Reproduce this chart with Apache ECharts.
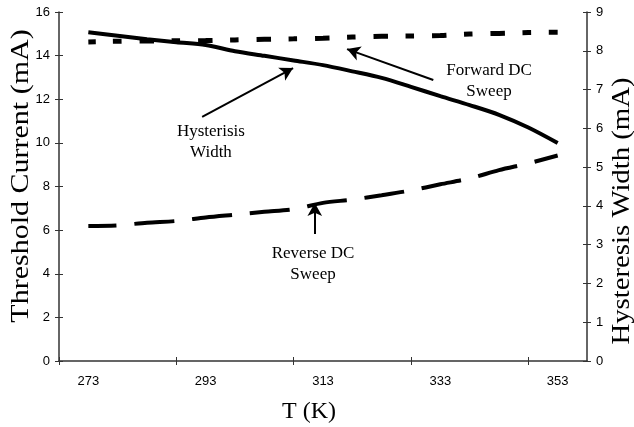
<!DOCTYPE html>
<html>
<head>
<meta charset="utf-8">
<script src="https://cdn.jsdelivr.net/npm/echarts@6/dist/echarts.min.js"></script>
<style>
  html, body { margin: 0; padding: 0; background: #fff; }
  #chart { width: 634px; height: 427px; }
</style>
</head>
<body>
<div id="chart"></div>
<script>
// temperatures (K)
var temps = [273, 278, 283, 288, 293, 298, 303, 308, 313, 318, 323, 328, 333, 338, 343, 348, 353];
// threshold current, forward DC sweep (mA, left axis)
var forwardSweep = [14.63, 14.66, 14.67, 14.68, 14.69, 14.72, 14.75, 14.77, 14.80, 14.85, 14.89, 14.90, 14.92, 14.99, 15.02, 15.06, 15.07];
// threshold current, reverse DC sweep (mA, left axis)
var reverseSweep = [6.19, 6.22, 6.34, 6.42, 6.58, 6.71, 6.84, 6.96, 7.25, 7.40, 7.60, 7.82, 8.10, 8.37, 8.75, 9.06, 9.42];
// hysteresis width (mA, right axis)
var hysteresisWidth = [8.48, 8.39, 8.30, 8.22, 8.15, 7.99, 7.87, 7.75, 7.63, 7.47, 7.30, 7.07, 6.83, 6.60, 6.35, 6.02, 5.62];

var xTicks = [268, 288, 308, 328, 348];
var xLabels = [273, 293, 313, 333, 353];

// annotation arrows [from, to] in (T, left-axis mA)
var arrows = [
  [[292.4, 11.19], [307.9, 13.43]],
  [[331.8, 12.88], [317.1, 14.30]],
  [[311.6, 5.82], [311.6, 7.24]]
];
var notes = [
  { text: 'Hysterisis\nWidth', at: [293.9, 10.04] },
  { text: 'Forward DC\nSweep', at: [341.3, 12.84] },
  { text: 'Reverse DC\nSweep', at: [311.3, 4.45] }
];

function pairs(xs, ys) {
  return ys.map(function (v, i) { return [xs[i], v]; });
}

var chart = echarts.init(document.getElementById('chart'));

var axisLine = { lineStyle: { color: '#333', width: 1.5 } };
var tickLabel = { color: '#000', fontFamily: 'Liberation Sans', fontSize: 13 };

var option = {
  animation: false,
  grid: { left: 59, right: 47, top: 12, bottom: 66 },
  xAxis: [
    {
      type: 'value', min: 268, max: 358,
      axisLine: axisLine,
      splitLine: { show: false },
      axisTick: { customValues: xTicks, length: 4, lineStyle: { color: '#333' } },
      axisLabel: Object.assign({ customValues: xLabels, margin: 14 }, tickLabel)
    },
    {
      type: 'value', min: 268, max: 358, position: 'bottom',
      axisLine: { show: false },
      splitLine: { show: false },
      axisTick: { inside: true, customValues: xTicks, length: 4, lineStyle: { color: '#333' } },
      axisLabel: { show: false }
    }
  ],
  yAxis: [
    {
      type: 'value', min: 0, max: 16, interval: 2, position: 'left',
      axisLine: Object.assign({ show: true }, axisLine),
      splitLine: { show: false },
      axisTick: { show: true, length: 4, lineStyle: { color: '#333' } },
      axisLabel: Object.assign({ margin: 9 }, tickLabel)
    },
    {
      type: 'value', min: 0, max: 9, interval: 1, position: 'right',
      axisLine: Object.assign({ show: true }, axisLine),
      splitLine: { show: false },
      axisTick: { show: true, length: 4, lineStyle: { color: '#333' } },
      axisLabel: Object.assign({ margin: 9 }, tickLabel)
    },
    {
      type: 'value', min: 0, max: 16, interval: 2, position: 'left',
      axisLine: { show: false }, splitLine: { show: false },
      axisTick: { show: true, inside: true, length: 4, lineStyle: { color: '#333' } },
      axisLabel: { show: false }
    },
    {
      type: 'value', min: 0, max: 9, interval: 1, position: 'right',
      axisLine: { show: false }, splitLine: { show: false },
      axisTick: { show: true, inside: true, length: 4, lineStyle: { color: '#333' } },
      axisLabel: { show: false }
    }
  ],
  graphic: [
    {
      type: 'text', x: 21, y: 176, rotation: Math.PI / 2, scaleX: 1.2,
      style: { text: 'Threshold Current (mA)', fontFamily: 'Liberation Serif', fontSize: 25,
        fill: '#000', textAlign: 'center', textVerticalAlign: 'middle', verticalAlign: 'middle' }
    },
    {
      type: 'text', x: 622, y: 211, rotation: Math.PI / 2, scaleX: 1.15,
      style: { text: 'Hysteresis Width (mA)', fontFamily: 'Liberation Serif', fontSize: 25,
        fill: '#000', textAlign: 'center', textVerticalAlign: 'middle', verticalAlign: 'middle' }
    },
    {
      type: 'text', x: 309, y: 412,
      style: { text: 'T (K)', fontFamily: 'Liberation Serif', fontSize: 24,
        fill: '#000', textAlign: 'center', textVerticalAlign: 'middle', verticalAlign: 'middle' }
    }
  ],
  series: [
    {
      name: 'Forward DC Sweep', type: 'line', xAxisIndex: 0, yAxisIndex: 0,
      data: pairs(temps, forwardSweep), showSymbol: false, smooth: 0.3,
      lineStyle: { color: '#000', width: 5, type: [15, 17, 9, 17.5], dashOffset: 7.5, cap: 'butt' },
      markLine: {
        silent: true, symbol: ['none', 'arrow'], symbolSize: [11, 13],
        label: { show: false },
        lineStyle: { color: '#000', width: 2, type: 'solid' },
        data: arrows.map(function (a) { return [{ coord: a[0] }, { coord: a[1] }]; })
      },
      markPoint: {
        silent: true, symbol: 'circle', symbolSize: 0,
        label: { show: true, color: '#000', fontFamily: 'Liberation Serif', fontSize: 17, lineHeight: 21, align: 'center' },
        data: notes.map(function (n) {
          return { coord: n.at, label: { formatter: n.text } };
        })
      }
    },
    {
      name: 'Reverse DC Sweep', type: 'line', xAxisIndex: 0, yAxisIndex: 0,
      data: pairs(temps, reverseSweep), showSymbol: false, smooth: 0.3,
      lineStyle: { color: '#000', width: 4, type: [40, 18], dashOffset: 12, cap: 'butt' }
    },
    {
      name: 'Hysteresis Width', type: 'line', xAxisIndex: 0, yAxisIndex: 1,
      data: pairs(temps, hysteresisWidth), showSymbol: false, smooth: 0.3,
      lineStyle: { color: '#000', width: 4 }
    }
  ]
};

chart.setOption(option);
</script>
</body>
</html>
